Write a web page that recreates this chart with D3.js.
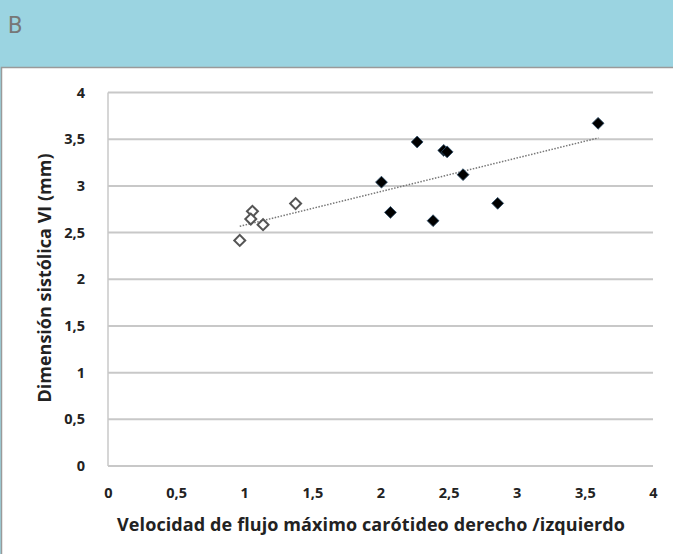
<!DOCTYPE html>
<html><head><meta charset="utf-8">
<script src="https://cdn.jsdelivr.net/npm/d3@7"></script>
<style>
body{margin:0;background:#fff;}
svg{display:block;}
</style></head>
<body>
<svg id="c" width="673" height="554"></svg>
<script>
const xTicks = [0,0.5,1,1.5,2,2.5,3,3.5,4];
const yTicks = [0,0.5,1,1.5,2,2.5,3,3.5,4];
const openX = [0.967,1.06,1.048,1.138,1.377];
const openY = [2.416,2.727,2.645,2.584,2.81];
const filledX = [2.007,2.073,2.269,2.464,2.489,2.386,2.606,2.86,3.597];
const filledY = [3.04,2.716,3.47,3.38,3.364,2.627,3.12,2.813,3.67];
const trendX = [0.967,3.6];
const trendY = [2.567,3.514];
const panelLabel = "B";
const xTitle = "Velocidad de flujo máximo carótideo derecho /izquierdo";
const yTitle = "Dimensión sistólica VI (mm)";
const fmt = v => String(v).replace(".", ",");

const svg = d3.select("#c");
svg.append("rect").attr("x",0).attr("y",0).attr("width",673).attr("height",554).attr("fill","#9bd4e1");
svg.append("rect").attr("x",1.5).attr("y",67.5).attr("width",680).attr("height",500).attr("fill","#fff").attr("stroke","#9a9a9a").attr("stroke-width",1.5);
svg.append("text").attr("x",8).attr("y",33).attr("font-family","Roboto, sans-serif").attr("font-size",23).attr("fill","#777").text(panelLabel);

const x = d3.scaleLinear().domain([0,4]).range([108,653]);
const y = d3.scaleLinear().domain([0,4]).range([466,92.5]);
const font = "'Open Sans', 'Liberation Sans', sans-serif";

// gridlines
svg.append("g").selectAll("line").data(yTicks.filter(d=>d>0)).join("line")
  .attr("x1",x(0)).attr("x2",x(4)).attr("y1",d=>y(d)).attr("y2",d=>y(d))
  .attr("stroke","#c8c8c8").attr("stroke-width",2);
// axes lines
svg.append("line").attr("x1",x(0)).attr("x2",x(0)).attr("y1",y(4)).attr("y2",y(0)).attr("stroke","#c8c8c8").attr("stroke-width",1.5);
svg.append("line").attr("x1",x(0)).attr("x2",x(4)).attr("y1",y(0)).attr("y2",y(0)).attr("stroke","#c8c8c8").attr("stroke-width",2);

// y tick labels via axis
const yAxis = svg.append("g").attr("transform",`translate(${x(0)-20},0)`)
  .call(d3.axisLeft(y).tickValues(yTicks).tickFormat(fmt).tickSize(0));
yAxis.select(".domain").remove();
yAxis.selectAll("text").attr("font-family",font).attr("font-weight","bold").attr("font-size",14.5).attr("fill","#222").attr("dx",0);

const xAxis = svg.append("g").attr("transform",`translate(0,${y(0)+19})`)
  .call(d3.axisBottom(x).tickValues(xTicks).tickFormat(fmt).tickSize(0));
xAxis.select(".domain").remove();
xAxis.selectAll("text").attr("font-family",font).attr("font-weight","bold").attr("font-size",14.5).attr("fill","#222");

// titles
svg.append("text").attr("x",371).attr("y",531).attr("text-anchor","middle")
  .attr("font-family",font).attr("font-weight","bold").attr("font-size",18).attr("textLength",508).attr("fill","#222").text(xTitle);
svg.append("text").attr("transform",`translate(51,278) rotate(-90)`).attr("text-anchor","middle")
  .attr("font-family",font).attr("font-weight","bold").attr("font-size",18).attr("fill","#222").text(yTitle);

// trendline
svg.append("line").attr("x1",x(trendX[0])).attr("y1",y(trendY[0])).attr("x2",x(trendX[1])).attr("y2",y(trendY[1]))
  .attr("stroke","#777").attr("stroke-width",1.5).attr("stroke-dasharray","1.5,1.5");

const diamond = d3.symbol().type(d3.symbolSquare).size(70);
const openData = openX.map((v,i)=>[v,openY[i]]);
const filledData = filledX.map((v,i)=>[v,filledY[i]]);
svg.append("g").selectAll("path").data(openData).join("path")
  .attr("d",d3.symbol().type(d3.symbolSquare).size(60))
  .attr("transform",d=>`translate(${x(d[0])},${y(d[1])}) rotate(45)`)
  .attr("fill","#fff").attr("stroke","#555").attr("stroke-width",2);
svg.append("g").selectAll("path").data(filledData).join("path")
  .attr("d",diamond)
  .attr("transform",d=>`translate(${x(d[0])},${y(d[1])}) rotate(45)`)
  .attr("fill","#000").attr("stroke","#2a4a66").attr("stroke-width",0.8);
</script>
</body></html>
